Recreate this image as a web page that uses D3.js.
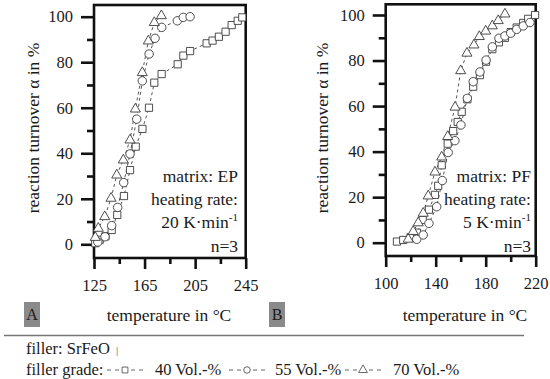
<!DOCTYPE html>
<html><head><meta charset="utf-8">
<script src="https://cdn.jsdelivr.net/npm/d3@7"></script>
<style>
html,body{margin:0;padding:0;background:#fff;}
svg text{font-family:"Liberation Serif","Times New Roman",serif;fill:#1a1a1a;}
</style></head>
<body><svg id="c" width="550" height="379"></svg>
<script>
// ---- data ----
const A40 = [[126,0.5],[129.5,2],[134,3.5],[139,6.3],[143.4,12.9],[148.7,21.2],[153.5,32.6],[158,42.9],[163.3,50.7],[168.5,60],[172.7,71],[178.5,74.8],[191.2,79.1],[195.7,82.9],[201,84.9],[214.1,88.3],[218.8,89.5],[223.8,91.2],[229.1,93.4],[233.9,96.3],[238.7,98.2],[242.3,99.7]];
const A55 = [[128,1],[133.7,3.3],[139,8.2],[143.7,16.2],[148.5,27.1],[153.5,39.7],[158.8,55],[163.2,71.8],[168.6,83.6],[173.3,90.5],[178.6,95.3],[190.9,98.2],[195.6,99.7],[201,100]];
const A70 = [[126,3],[128.4,7],[133.5,12.1],[138.5,20.2],[143,30.4],[148.2,37],[153.5,45.8],[157.7,59.4],[163.2,75.4],[168,89.3],[172.7,97.4],[178.3,100.4]];
const B40 = [[109,0.5],[114,1.2],[120,2.4],[125,4.4],[129.6,10],[134.6,14.5],[139.4,21],[142,25],[144.8,34],[149.6,43.5],[154,49],[157.6,53],[160.8,57.5],[165.3,63],[170,68.5],[175.4,73.6],[180.3,79.5],[185.3,85],[190.6,88],[195.4,90],[200,92.5],[204.8,94.5],[210,96.5],[214,98.3],[219.5,100]];
const B55 = [[124.8,1.5],[130,3.4],[134.6,8.5],[140.8,15.8],[145.3,27.3],[150,39.6],[155.4,44.8],[160.2,51.7],[165.3,63.4],[170,70.7],[175.4,75],[180.3,80.2],[185.3,86],[190.6,89.8],[195.4,90.8],[200,92],[204.8,93.7],[210,95.2],[215.4,96.7]];
const B70 = [[118,1.5],[122,4.9],[126,8.7],[130,12.9],[134,20.5],[139.4,31],[144.8,37.6],[149.6,46.6],[155.5,59.5],[160,75.5],[165,83.2],[170.6,86.8],[174.9,90.5],[180,92.9],[185.3,95.2],[190,97.5],[195.4,100.4]];
const xTicksA = [125,165,205,245], xMinorA = [145,185,225];
const xTicksB = [100,140,180,220], xMinorB = [120,160,200];
const yTicks = [0,20,40,60,80,100], yMinor = [10,30,50,70,90];
const seriesNames = ["40 Vol.-%","55 Vol.-%","70 Vol.-%"];
const yTitle = "reaction turnover α in %";
const xTitle = "temperature in °C";

const svg = d3.select("#c");
const symTypes = [d3.symbolSquare, d3.symbolCircle, d3.symbolTriangle];
const symSizes = [52, 56, 44];

function panel(o){
  const x = d3.scaleLinear().domain(o.xd).range([o.x0,o.x1]);
  const y = d3.scaleLinear().domain([0,100]).range([o.y0,o.y100]);
  const g = svg.append("g");
  const ax = g.append("g").attr("transform",`translate(${o.x0},0)`)
    .call(d3.axisLeft(y).tickValues(yTicks).tickSize(13).tickPadding(8).tickFormat(d3.format("d")));
  const axm = g.append("g").attr("transform",`translate(${o.x0},0)`)
    .call(d3.axisLeft(y).tickValues(yMinor).tickSize(7).tickFormat(""));
  const bx = g.append("g").attr("transform",`translate(0,${o.fb})`)
    .call(d3.axisBottom(x).tickValues(o.xt).tickSize(11).tickPadding(10).tickFormat(d3.format("d")));
  const bxm = g.append("g").attr("transform",`translate(0,${o.fb})`)
    .call(d3.axisBottom(x).tickValues(o.xm).tickSize(6).tickFormat(""));
  [ax,axm,bx,bxm].forEach(a=>{a.select(".domain").remove();a.selectAll("line").attr("stroke","#111").attr("stroke-width",2.6);});
  [ax,bx].forEach(a=>a.selectAll("text").attr("font-size",16.5).style("font-family","Liberation Serif, serif").attr("fill","#1a1a1a"));
  g.append("rect").attr("x",o.x0).attr("y",o.ft).attr("width",o.x1-o.x0).attr("height",o.fb-o.ft)
    .attr("fill","none").attr("stroke","#111").attr("stroke-width",2.6);
  const line = d3.line().x(d=>x(d[0])).y(d=>y(d[1]));
  o.series.forEach((s,i)=>{
    g.append("path").attr("d",line(s)).attr("fill","none").attr("stroke","#555")
      .attr("stroke-width",1).attr("stroke-dasharray","3,3");
  });
  o.series.forEach((s,i)=>{
    g.selectAll(null).data(s).enter().append("path")
      .attr("d",d3.symbol().type(symTypes[i]).size(symSizes[i]))
      .attr("transform",d=>`translate(${x(d[0])},${y(d[1])})`)
      .attr("fill","#fff").attr("stroke","#3a3a3a").attr("stroke-width",0.9);
  });
  const tx = g.append("g").attr("font-size",17.5).attr("text-anchor","end");
  o.notes.forEach((t,i)=>{
    const e = tx.append("text").attr("x",o.nx).attr("y",[182,205,228,252][i]);
    if(Array.isArray(t)){ e.text(t[0]); e.append("tspan").attr("dy",-7).attr("font-size",11).text(t[1]); }
    else e.text(t);
  });
  g.append("text").attr("transform",`translate(${o.ytx},${o.yty}) rotate(-90)`).attr("text-anchor","middle")
    .attr("font-size",17.5).attr("dy","0.33em").text(yTitle);
  g.append("text").attr("x",o.xtx).attr("y",321).attr("text-anchor","middle").attr("font-size",17.5).text(xTitle);
  g.append("rect").attr("x",o.lb).attr("y",302).attr("width",16).attr("height",25).attr("fill","#8a8a8a");
  g.append("text").attr("x",o.lb+8).attr("y",320).attr("text-anchor","middle").attr("font-size",16).text(o.letter);
}

panel({xd:[125,245],x0:94,x1:245.7,y0:244.3,y100:16.7,ft:5,fb:258,xt:xTicksA,xm:xMinorA,
  series:[A40,A55,A70],notes:["matrix: EP","heating rate:",["20 K·min","-1"],"n=3"],nx:238,
  ytx:33,yty:128,xtx:169,lb:24,letter:"A"});
panel({xd:[100,220],x0:385.7,x1:535.7,y0:242.7,y100:15,ft:4.3,fb:256,xt:xTicksB,xm:xMinorB,
  series:[B40,B55,B70],notes:["matrix: PF","heating rate:",["5 K·min","-1"],"n=3"],nx:531,
  ytx:322,yty:128,xtx:465,lb:269,letter:"B"});

svg.append("line").attr("x1",4).attr("x2",524).attr("y1",335.5).attr("y2",335.5).attr("stroke","#777").attr("stroke-width",1.3);
const f = svg.append("text").attr("x",26).attr("y",354).attr("font-size",16.5).text("filler: SrFeO");
f.append("tspan").attr("dx",6).attr("font-size",11).attr("fill","#555").text("|");
const lg = svg.append("g");
lg.append("text").attr("x",26).attr("y",375).attr("font-size",16.5).text("filler grade:");
const legX = [107,229,345], legTextX = [155,275,393];
seriesNames.forEach((n,i)=>{
  const cx = legX[i]+18, cy = 370;
  lg.append("line").attr("x1",legX[i]).attr("x2",legX[i]+37).attr("y1",cy).attr("y2",cy)
    .attr("stroke","#666").attr("stroke-width",1).attr("stroke-dasharray","4,4");
  lg.append("path").attr("d",d3.symbol().type(symTypes[i]).size(34)).attr("transform",`translate(${cx},${cy})`)
    .attr("fill","#fff").attr("stroke","#555").attr("stroke-width",0.9);
  lg.append("text").attr("x",legTextX[i]).attr("y",375).attr("font-size",16.5).text(n);
});
</script></body></html>
